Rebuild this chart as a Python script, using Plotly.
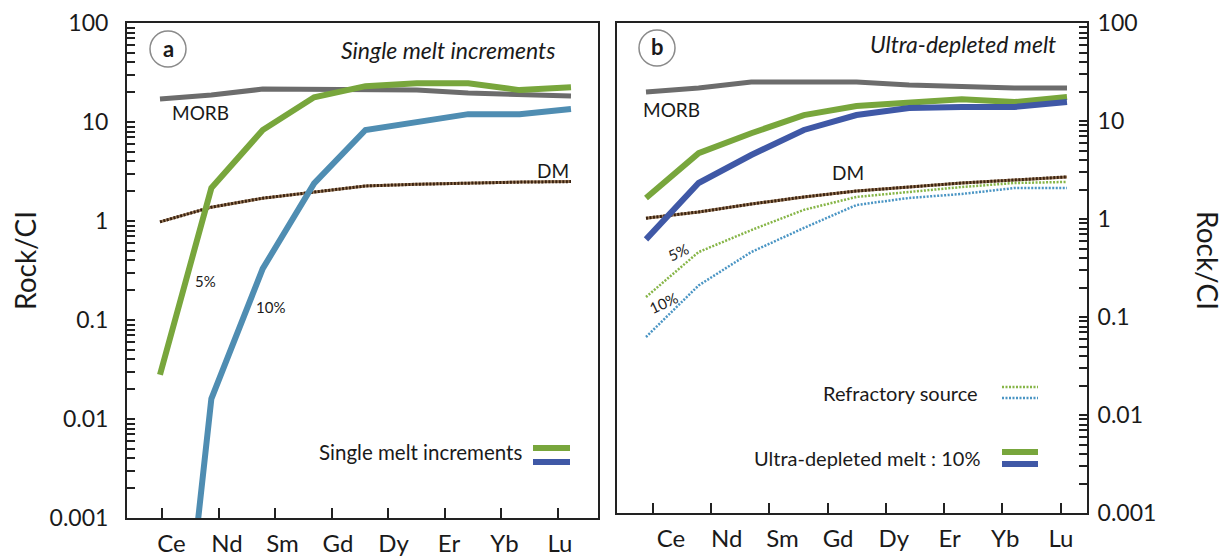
import plotly.graph_objects as go

# ---------------- data ----------------
categories = ["Ce", "Nd", "Sm", "Gd", "Dy", "Er", "Yb", "Lu"]
nodes = [0, 1, 2, 3, 4, 5, 6, 7, 8]          # profile nodes, Ce ... Lu

# panel a : single melt increments
a_morb = [17.1, 18.7, 21.5, 21.5, 21.5, 21.0, 19.6, 18.7, 18.3]
a_dm = [0.98, 1.38, 1.70, 1.96, 2.26, 2.35, 2.42, 2.47, 2.50]
a_melt_5 = [0.028, 2.15, 8.3, 17.8, 23.0, 24.6, 24.6, 21.0, 22.5]
a_melt_10 = [3e-7, 0.016, 0.33, 2.4, 8.3, 10.0, 12.0, 12.0, 13.5]

# panel b : ultra-depleted melt
b_morb = [19.8, 21.7, 25.0, 25.0, 25.0, 23.3, 22.2, 21.7, 21.7]
b_dm = [1.02, 1.18, 1.42, 1.68, 1.93, 2.12, 2.33, 2.50, 2.69]
b_source_5 = [0.16, 0.46, 0.77, 1.24, 1.68, 1.89, 2.12, 2.33, 2.39]
b_source_10 = [0.0625, 0.21, 0.46, 0.81, 1.39, 1.64, 1.80, 2.07, 2.07]
b_udm_5 = [1.64, 4.7, 7.5, 11.5, 14.2, 15.6, 16.7, 15.6, 17.6]
b_udm_10 = [0.62, 2.33, 4.5, 8.1, 11.5, 13.6, 13.9, 13.9, 15.6]

y_tickvals = [0.001, 0.01, 0.1, 1, 10, 100]
y_ticktext = ["0.001", "0.01", "0.1", "1", "10", "100"]

# ---------------- style ----------------
FONT = "Lato"
TXT = "#1a1a1a"
AX = "#222222"
GRAY = "#6c6c6c"
BROWN = "#3a2210"
BROWN_L = "#9a7a5a"
GREEN = "#78a63c"
STEEL = "#4f8db2"
ROYAL = "#3f58a6"
LGREEN = "#86b547"
LBLUE = "#4a95c4"

W, H = 1224, 560
ML, MR, MT, MB = 127, 137, 23, 42
PW, PH = W - ML - MR, H - MT - MB


def px(x):
    return (x - ML) / PW


def py(y):
    return (H - MB - y) / PH


fig = go.Figure()


def add_line(xa, ya, y, color, width, dash="solid"):
    fig.add_trace(go.Scatter(x=nodes, y=y, mode="lines", xaxis=xa, yaxis=ya,
                             line=dict(color=color, width=width, dash=dash),
                             showlegend=False, hoverinfo="skip"))


# panel a
add_line("x", "y", a_morb, GRAY, 5)
add_line("x", "y", a_dm, BROWN_L, 3)
add_line("x", "y", a_dm, BROWN, 3, "2px,1.5px")
add_line("x", "y", a_melt_5, GREEN, 6)
add_line("x", "y", a_melt_10, STEEL, 6)

# panel b
add_line("x2", "y2", b_morb, GRAY, 5)
add_line("x2", "y2", b_dm, BROWN_L, 3)
add_line("x2", "y2", b_dm, BROWN, 3, "2px,1.5px")
add_line("x2", "y2", b_source_5, LGREEN, 2.5, "2px,1.5px")
add_line("x2", "y2", b_source_10, LBLUE, 2.5, "2px,1.5px")
add_line("x2", "y2", b_udm_5, GREEN, 6)
add_line("x2", "y2", b_udm_10, ROYAL, 6)

# dummy traces so overlay axes are drawn
for xa, ya in [("x3", "y"), ("x5", "y"), ("x4", "y2"), ("x6", "y2")]:
    fig.add_trace(go.Scatter(x=[None], y=[None], xaxis=xa, yaxis=ya,
                             showlegend=False, hoverinfo="skip"))

# major decade ticks labelled, 2..9 minor ticks unlabelled
minor_vals = [m * 10 ** e for e in range(-3, 2) for m in range(2, 10)]
all_tickvals = y_tickvals + minor_vals
all_ticktext = y_ticktext + [""] * len(minor_vals)

ycommon = dict(type="log", range=[-3, 2], tickmode="array", tickvals=all_tickvals,
               ticktext=all_ticktext, automargin=False,
               ticks="inside", ticklen=8, tickwidth=1.5, tickcolor=AX,
               showline=True, linecolor=AX, linewidth=2, mirror=True,
               showgrid=False, zeroline=False,
               tickfont=dict(family=FONT, size=23, color=TXT))

tick_x = dict(tickmode="array", tickvals=list(range(8)), ticks="inside", ticklen=10,
              tickwidth=2, tickcolor=AX, showticklabels=False, showline=True,
              linecolor=AX, linewidth=2, mirror=True, showgrid=False, zeroline=False,
              automargin=False)
label_x = dict(tickmode="array", tickvals=list(range(8)), ticktext=categories, ticks="",
               showline=False, showgrid=False, zeroline=False, automargin=False,
               tickfont=dict(family=FONT, size=24, color=TXT), ticklabelstandoff=9)

fig.update_layout(
    width=W, height=H, paper_bgcolor="white", plot_bgcolor="white",
    margin=dict(l=ML, r=MR, t=MT, b=MB, autoexpand=False), showlegend=False,
    font=dict(family=FONT, color=TXT),
    xaxis=dict(domain=[0, px(598)], range=[-0.642, 8.526], visible=False, anchor="y"),
    xaxis3=dict(overlaying="x", anchor="y", range=[-0.619, 7.707], **tick_x),
    xaxis5=dict(overlaying="x", anchor="y", range=[-0.802, 7.685], **label_x),
    yaxis=dict(domain=[0, 1], anchor="x", side="left", ticklabelstandoff=12, **ycommon),
    xaxis2=dict(domain=[px(617), 1], range=[-0.551, 8.380], visible=False, anchor="y2"),
    xaxis4=dict(overlaying="x2", anchor="y2", range=[-0.609, 7.449], **tick_x),
    xaxis6=dict(overlaying="x2", anchor="y2", range=[-0.969, 7.467], **label_x),
    yaxis2=dict(domain=[py(513), 1], anchor="x2", side="right", ticklabelstandoff=4, **ycommon),
)

ann = []


def text(x, y, s, size=18, xanchor="center", italic=False, bold=False, angle=0):
    ann.append(dict(x=px(x), y=py(y), xref="paper", yref="paper", text=s,
                    showarrow=False, xanchor=xanchor, yanchor="middle", textangle=angle,
                    font=dict(family=FONT, size=size, color=TXT,
                              style="italic" if italic else "normal",
                              weight="bold" if bold else "normal")))


# axis titles
text(25, 261, "Rock/CI", size=28, angle=-90)
text(1208, 260, "Rock/CI", size=28, angle=90)

# panel titles
text(557, 50, "Single melt increments", size=23, xanchor="right", italic=True)
text(1058, 44, "Ultra-depleted melt", size=23, xanchor="right", italic=True)
text(168, 48, "a", size=22, bold=True)
text(657, 47, "b", size=22, bold=True)

# curve labels
text(170, 113, "MORB", size=19, xanchor="left")
text(571, 170, "DM", size=19, xanchor="right")
text(205, 281, "5%", size=15)
text(270, 307, "10%", size=15)
text(641, 109, "MORB", size=19, xanchor="left")
text(848, 172, "DM", size=19)
text(678, 252, "5%", size=15, angle=-25)
text(663, 303, "10%", size=15, angle=-25)

# legends
text(524, 452, "Single melt increments", size=20.5, xanchor="right")
text(980, 393, "Refractory source", size=20, xanchor="right")
text(982, 458, "Ultra-depleted melt : 10%", size=20, xanchor="right")

fig.update_layout(annotations=ann)

shapes = []
for cx, cy in [(168, 49), (657, 48)]:
    shapes.append(dict(type="circle", xref="paper", yref="paper", xsizemode="pixel",
                       ysizemode="pixel", xanchor=px(cx), yanchor=py(cy),
                       x0=-18, x1=18, y0=-18, y1=18,
                       line=dict(color="#8a8a8a", width=1.5)))


def swatch(x0, x1, y, color, width, dash="solid"):
    shapes.append(dict(type="line", xref="paper", yref="paper", x0=px(x0), x1=px(x1),
                       y0=py(y), y1=py(y), line=dict(color=color, width=width, dash=dash)))


swatch(533, 570, 448, GREEN, 6)
swatch(533, 570, 462, ROYAL, 6)
swatch(1002, 1038, 387, LGREEN, 2.5, "2px,1.5px")
swatch(1002, 1038, 398, LBLUE, 2.5, "2px,1.5px")
swatch(1002, 1038, 452, GREEN, 6)
swatch(1002, 1038, 464, ROYAL, 6)

fig.update_layout(shapes=shapes)

fig.write_html("out.html")
